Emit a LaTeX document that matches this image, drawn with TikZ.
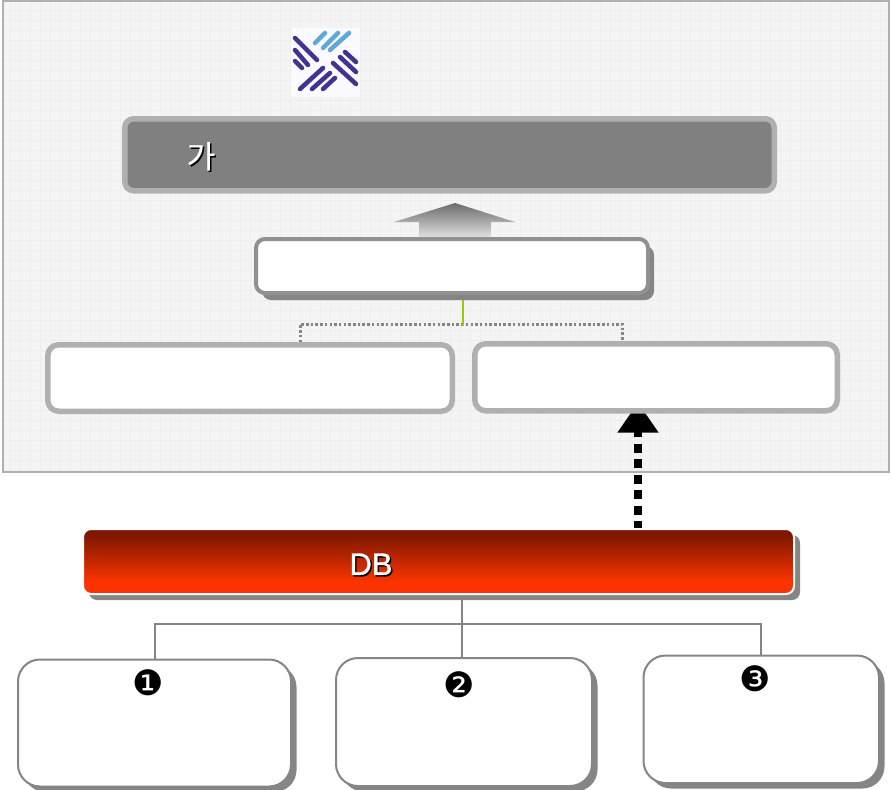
\documentclass[tikz,border=0pt]{standalone}
\usepackage{fontspec}
\setmainfont{Liberation Sans}
\newfontfamily\koreanfont[FakeBold=0.5]{Noto Sans CJK KR}
\newfontfamily\symbolfont{DejaVu Sans}
\newfontfamily\dbfont[FakeBold=1]{Liberation Sans}
\usetikzlibrary{arrows.meta,backgrounds,shadows}
\definecolor{panelfill}{HTML}{F4F4F4}
\definecolor{panelgrid}{HTML}{EEEEEE}
\definecolor{borderlight}{HTML}{B0B0B0}
\definecolor{bordermid}{HTML}{919191}
\definecolor{shadowgray}{HTML}{858585}
\definecolor{linegreen}{HTML}{99CC00}
\definecolor{logopurple}{HTML}{43328F}
\definecolor{logoblue}{HTML}{5FA9D6}
\definecolor{dbtop}{HTML}{7F1800}
\definecolor{dbbottom}{HTML}{FA3300}
\pgfdeclareverticalshading{dbshade}{100bp}{color(0bp)=(dbbottom); color(35bp)=(dbbottom); color(70bp)=(dbtop); color(100bp)=(dbtop)}
\newcommand{\shadowtext}[1]{\rlap{\raisebox{-1.5pt}{\kern1.5pt\textcolor{black}{#1}}}#1}
\tikzset{
  softbox/.style={draw=borderlight, line width=5.5pt, fill=white, rounded corners=11pt},
  listbox/.style={draw=shadowgray, line width=2pt, fill=white, rounded corners=22pt,
    drop shadow={shadow xshift=5.5pt, shadow yshift=-5.5pt, fill=shadowgray, opacity=1}},
  treeline/.style={draw=shadowgray, line width=2pt},
  numlabel/.style={font=\symbolfont\fontsize{35}{35}\selectfont},
  logodark/.style={draw=logopurple, line width=4.5pt, line cap=round},
  logolight/.style={draw=logoblue, line width=4.5pt, line cap=round}
}
\begin{document}
\begin{tikzpicture}[x=1pt,y=-1pt]
\useasboundingbox (0,0) rectangle (892,790);

% draw the boxes of the upper panel
\node[draw=borderlight, line width=5.5pt, fill=black!50, rounded corners=9pt,
  minimum width=649.5pt, minimum height=72pt] (titlebar) at (449.5,154.75) {};
\node[draw=bordermid, line width=4pt, fill=white, rounded corners=9pt,
  minimum width=392pt, minimum height=54pt,
  drop shadow={shadow xshift=6pt, shadow yshift=-7pt, fill=shadowgray, opacity=1}] (midbox) at (452,266) {};
\node[softbox, minimum width=404.5pt, minimum height=66.5pt] (leftbox) at (250,378) {};
\node[softbox, minimum width=362.5pt, minimum height=67pt] (rightbox) at (656,377.25) {};
\node[text=white, font=\koreanfont\fontsize{31}{31}\selectfont] (titletext) at (201,157) {\shadowtext{가}};

% draw the db bar
\node[draw=white, line width=2pt, shading=dbshade, rounded corners=8pt,
  minimum width=711pt, minimum height=65pt,
  drop shadow={shadow xshift=6pt, shadow yshift=-6pt, fill=shadowgray, opacity=1}] (db) at (438.5,561.5) {};
\node[text=white, font=\dbfont\fontsize{31}{31}\selectfont] (dbtext) at (371,565) {\shadowtext{DB}};

% draw the lower boxes
\node[listbox, minimum width=273pt, minimum height=127pt] (box1) at (154.5,723) {};
\node[listbox, minimum width=256pt, minimum height=128pt] (box2) at (464,722) {};
\node[listbox, minimum width=235.5pt, minimum height=127.5pt] (box3) at (761.25,719.25) {};
\node[numlabel] (num1) at (148.5,683) {❶};
\node[numlabel] (num2) at (459.5,685) {❷};
\node[numlabel] (num3) at (755.5,679) {❸};

% joints of the connectors
\coordinate (midjoint) at (463,326);
\coordinate (lefttap) at (300.5,324);
\coordinate (righttap) at (622,324);
\coordinate (dbjoint) at (461.5,624);
\coordinate (dbout) at (638,530);

\begin{scope}[on background layer]
% draw the panel with its fine grid
\draw[draw=borderlight, line width=2pt, fill=panelfill] (3,1) rectangle (889,472);
\draw[panelgrid, line width=.5pt, step=10pt] (4,2) grid (888,471);

% draw the logo
\fill[white!98!blue] (291,28) rectangle (360,97);
\foreach \a/\b/\c/\d in {295/38/317/60, 295/50/308/65, 295/61/302/68,
  300/89/323/68, 312/89/330/73, 323/89/335/78,
  333/63/356/84, 340/57/356/72, 345/52/356/62}
\draw[logodark] (\a,\b) -- (\c,\d);
\foreach \a/\b/\c/\d in {315/43/325/33, 323/48/338/33, 330/50/349/33}
\draw[logolight] (\a,\b) -- (\c,\d);

% draw the block arrow up to the title bar
\shade[top color=black!58, bottom color=black!10] (455,203) -- (515,222) -- (491,222) -- (491,239)
  -- (419,239) -- (419,222) -- (394,222) -- cycle;

% draw the connectors
\draw[shadowgray, line width=3pt, dash pattern=on 2.5pt off 2.2pt] (lefttap |- leftbox.north) -- (lefttap) -- (righttap) -- (righttap |- rightbox.north);
\draw[linegreen, line width=2pt] (midjoint |- midbox.south) -- (midjoint);
\draw[treeline] (dbjoint |- db.south) -- (dbjoint) -- (dbjoint |- box2.north);
\draw[treeline] (box1.north) -- (box1.north |- dbjoint) -- (box3.north |- dbjoint) -- (box3.north);
\draw[line width=8pt, dash pattern=on 9pt off 6.5pt, shorten >=-11pt, -{Triangle[width=39pt,length=30pt]}] (dbout) -- (dbout |- rightbox.south);
\end{scope}
\end{tikzpicture}
\end{document}
